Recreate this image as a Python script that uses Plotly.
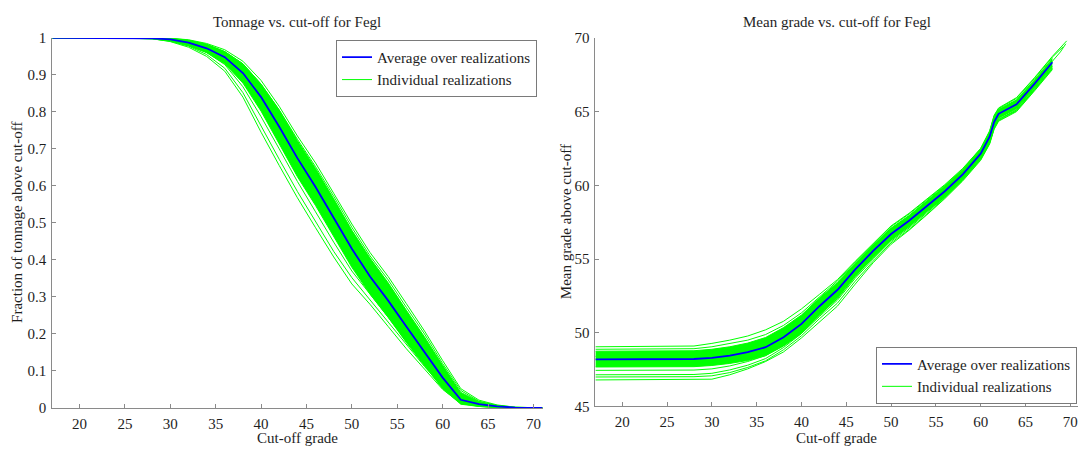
import plotly.graph_objects as go

FONT = "Liberation Serif, Times New Roman, serif"
BLUE = "#0000FF"
GREEN = "#00FF00"
AXC = "#8a8a8a"
TXT = "#1e1e1e"

# ---------------- Left panel: tonnage fraction vs cut-off ----------------
cut_t = [17, 20, 25, 28, 30, 32, 34, 36, 38, 40, 42, 44, 46, 48, 50, 52, 54, 56, 58, 60, 62, 64, 66, 68, 71]
ton_mean = [1, 1, 1, 0.999, 0.996, 0.987, 0.972, 0.948, 0.905, 0.840, 0.760, 0.675, 0.597, 0.515, 0.430, 0.355,
            0.290, 0.220, 0.152, 0.082, 0.022, 0.010, 0.004, 0.001, 0]
ton_core_hi = [1, 1, 1, 1.0, 0.999, 0.994, 0.983, 0.963, 0.930, 0.875, 0.805, 0.722, 0.647, 0.565, 0.480, 0.405,
               0.338, 0.264, 0.192, 0.115, 0.042, 0.017, 0.007, 0.002, 0]
ton_core_lo = [1, 1, 1, 0.997, 0.992, 0.979, 0.960, 0.930, 0.878, 0.802, 0.715, 0.625, 0.547, 0.465, 0.380, 0.308,
               0.245, 0.177, 0.115, 0.052, 0.010, 0.004, 0.001, 0, 0]
ton_low1 = [1, 1, 1, 0.998, 0.990, 0.975, 0.950, 0.910, 0.840, 0.745, 0.655, 0.568, 0.487, 0.408, 0.335, 0.280,
            0.220, 0.160, 0.105, 0.050, 0.012, 0.004, 0.001, 0, 0]
ton_low2 = [1, 1, 1, 0.998, 0.991, 0.978, 0.955, 0.918, 0.852, 0.760, 0.672, 0.585, 0.503, 0.423, 0.352, 0.292,
            0.230, 0.170, 0.112, 0.056, 0.014, 0.005, 0.001, 0, 0]
ton_low3 = [1, 1, 1, 0.999, 0.993, 0.981, 0.961, 0.928, 0.868, 0.787, 0.700, 0.612, 0.530, 0.448, 0.370, 0.308,
            0.245, 0.180, 0.122, 0.062, 0.016, 0.006, 0.002, 0, 0]
ton_high1 = [1, 1, 1, 1.0, 0.999, 0.995, 0.985, 0.968, 0.937, 0.885, 0.815, 0.735, 0.662, 0.580, 0.497, 0.420,
             0.355, 0.282, 0.208, 0.128, 0.052, 0.021, 0.008, 0.002, 0]
ton_high2 = [1, 1, 1, 1.0, 0.998, 0.993, 0.982, 0.963, 0.930, 0.875, 0.805, 0.726, 0.652, 0.572, 0.488, 0.411,
             0.346, 0.272, 0.200, 0.120, 0.047, 0.018, 0.006, 0.001, 0]

# ---------------- Right panel: mean grade vs cut-off ----------------
cut_g = [17, 20, 25, 28, 30, 32, 34, 36, 38, 40, 42, 44, 46, 48, 50, 52, 54, 56, 58, 60, 61, 61.5, 62, 64, 66, 68]
grade_mean = [48.2, 48.2, 48.2, 48.22, 48.3, 48.45, 48.68, 49.02, 49.7, 50.6, 51.8, 52.9, 54.3, 55.55, 56.7, 57.6,
              58.6, 59.6, 60.75, 62.15, 63.3, 64.3, 64.85, 65.5, 66.88, 68.35]
grade_core_hi = [48.75, 48.75, 48.75, 48.78, 48.88, 49.05, 49.3, 49.68, 50.35, 51.2, 52.35, 53.4, 54.72, 55.95,
                 57.1, 57.95, 58.95, 59.95, 61.05, 62.45, 63.6, 64.65, 65.15, 65.8, 67.15, 68.6]
grade_core_lo = [47.68, 47.68, 47.68, 47.7, 47.78, 47.92, 48.12, 48.45, 49.1, 49.95, 51.2, 52.35, 53.85, 55.12,
                 56.3, 57.2, 58.25, 59.25, 60.45, 61.85, 62.95, 63.95, 64.55, 65.2, 66.6, 68.05]
cut_g_ext1 = cut_g + [69.6]
grade_hi1 = [49.05, 49.05, 49.05, 49.1, 49.28, 49.5, 49.78, 50.2, 50.78, 51.62, 52.6, 53.6, 54.85, 56.05, 57.25,
             58.1, 59.05, 60.05, 61.15, 62.5, 63.7, 64.75, 65.25, 65.95, 67.3, 68.75, 69.8]
cut_g_ext2 = cut_g + [69.2]
grade_hi2 = [48.88, 48.88, 48.88, 48.92, 49.05, 49.25, 49.5, 49.88, 50.5, 51.35, 52.45, 53.5, 54.8, 56.0, 57.2,
             58.05, 59.0, 60.0, 61.1, 62.5, 63.65, 64.7, 65.2, 65.9, 67.25, 68.7, 69.4]
cut_g_ext3 = cut_g + [68.9, 69.5]
grade_mid1 = [48.4, 48.4, 48.4, 48.42, 48.5, 48.65, 48.9, 49.25, 49.9, 50.8, 51.95, 53.05, 54.45, 55.7, 56.85,
              57.75, 58.75, 59.75, 60.9, 62.3, 63.45, 64.5, 65.0, 65.65, 67.0, 68.45, 69.05, 69.6]
grade_lo1 = [46.8, 46.8, 46.8, 46.82, 46.85, 47.15, 47.55, 48.05, 48.7, 49.65, 50.75, 51.8, 53.3, 54.75, 56.0,
             56.95, 58.0, 59.1, 60.3, 61.7, 62.8, 63.8, 64.35, 65.0, 66.4, 67.85]
grade_lo2 = [47.0, 47.0, 47.0, 47.02, 47.08, 47.3, 47.65, 48.1, 48.85, 49.8, 50.95, 52.0, 53.5, 54.85, 56.1,
             57.0, 58.05, 59.15, 60.35, 61.75, 62.85, 63.85, 64.4, 65.05, 66.45, 67.9]
grade_lo3 = [47.15, 47.15, 47.15, 47.17, 47.25, 47.48, 47.8, 48.25, 49.0, 49.95, 51.1, 52.2, 53.7, 55.0, 56.2,
             57.1, 58.15, 59.2, 60.4, 61.8, 62.9, 63.9, 64.45, 65.1, 66.5, 67.95]
grade_lo4 = [47.45, 47.45, 47.45, 47.47, 47.55, 47.75, 48.05, 48.45, 49.15, 50.05, 51.2, 52.3, 53.8, 55.1, 56.28,
             57.18, 58.22, 59.22, 60.42, 61.82, 62.92, 63.92, 64.48, 65.13, 66.53, 67.98]

x_ticks = [20, 25, 30, 35, 40, 45, 50, 55, 60, 65, 70]
ton_ticks = [0, 0.1, 0.2, 0.3, 0.4, 0.5, 0.6, 0.7, 0.8, 0.9, 1]
grade_ticks = [45, 50, 55, 60, 65, 70]

W, H = 1078, 455
FS = 15
fig = go.Figure()


def add_panel(xa, ya, leg, x, mean, lo, hi, lines):
    fig.add_trace(go.Scatter(x=x, y=lo, mode="lines", line=dict(color=GREEN, width=1),
                             xaxis=xa, yaxis=ya, showlegend=False, hoverinfo="skip"))
    fig.add_trace(go.Scatter(x=x, y=hi, mode="lines", line=dict(color=GREEN, width=1),
                             fill="tonexty", fillcolor=GREEN,
                             xaxis=xa, yaxis=ya, showlegend=False, hoverinfo="skip"))
    for i, (lx, ly) in enumerate(lines):
        fig.add_trace(go.Scatter(x=lx, y=ly, mode="lines", line=dict(color=GREEN, width=1),
                                 xaxis=xa, yaxis=ya, name="Individual realizations",
                                 showlegend=(i == 0), legend=leg, legendrank=2))
    fig.add_trace(go.Scatter(x=x[:len(mean)], y=mean, mode="lines", line=dict(color=BLUE, width=1.8),
                             xaxis=xa, yaxis=ya, name="Average over realizations",
                             showlegend=True, legend=leg, legendrank=1))


add_panel("x", "y", "legend", cut_t, ton_mean, ton_core_lo, ton_core_hi,
          [(cut_t, ton_low1), (cut_t, ton_low2), (cut_t, ton_low3), (cut_t, ton_high1), (cut_t, ton_high2)])
add_panel("x2", "y2", "legend2", cut_g, grade_mean, grade_core_lo, grade_core_hi,
          [(cut_g_ext1, grade_hi1), (cut_g_ext2, grade_hi2), (cut_g_ext3, grade_mid1), (cut_g, grade_lo1),
           (cut_g, grade_lo2), (cut_g, grade_lo3), (cut_g, grade_lo4)])

axis_common = dict(showgrid=False, zeroline=False, showline=True, linecolor=AXC, linewidth=1,
                   ticks="inside", ticklen=4, tickcolor=AXC, tickwidth=1,
                   tickfont=dict(family=FONT, size=FS, color=TXT), mirror=False,
                   ticklabeloverflow="allow")
xaxis_extra = dict(ticklabelstandoff=2)
yaxis_extra = dict(ticklabelstandoff=2)

lx0, lx1 = 52.3 / W, 542.5 / W
rx0, rx1 = 595.4 / W, 1.0
ly0, ly1 = (H - 414.5) / H, (H - 31) / H
ry0, ry1 = (H - 413) / H, (H - 31) / H

legend_common = dict(bgcolor="white", bordercolor="#7a7a7a", borderwidth=1,
                     font=dict(family=FONT, size=FS, color=TXT), tracegroupgap=0, traceorder="normal")

fig.update_layout(
    width=W, height=H, margin=dict(l=0, r=0, t=0, b=0),
    paper_bgcolor="white", plot_bgcolor="white",
    font=dict(family=FONT, size=FS, color=TXT),
    xaxis=dict(domain=[lx0, lx1], range=[17, 71], tickvals=x_ticks, anchor="y", **axis_common, **xaxis_extra),
    yaxis=dict(domain=[ly0, ly1], range=[0, 1], tickvals=ton_ticks, anchor="x", **axis_common, **yaxis_extra),
    xaxis2=dict(domain=[rx0, rx1], range=[17, 17 + (1078 - 595.4) / 8.96], tickvals=x_ticks, anchor="y2",
                **axis_common, **xaxis_extra),
    yaxis2=dict(domain=[ry0, ry1], range=[45, 70], tickvals=grade_ticks, anchor="x2", **axis_common,
                **yaxis_extra),
    legend=dict(x=537 / W, y=(H - 33) / H, xanchor="right", yanchor="top", **legend_common),
    legend2=dict(x=1077 / W, y=(H - 410) / H, xanchor="right", yanchor="bottom", **legend_common),
    showlegend=True,
)

ann = dict(xref="paper", yref="paper", showarrow=False, font=dict(family=FONT, size=FS, color=TXT))
lcx = (lx0 + lx1) / 2
rcx = (rx0 + rx1) / 2
fig.add_annotation(text="Tonnage vs. cut-off for Fegl", x=lcx, y=(H - 14) / H, xanchor="center",
                   yanchor="middle", **ann)
fig.add_annotation(text="Mean grade vs. cut-off for Fegl", x=rcx, y=(H - 14) / H, xanchor="center",
                   yanchor="middle", **ann)
fig.add_annotation(text="Cut-off grade", x=lcx, y=(H - 445.5) / H, xanchor="center", yanchor="middle", **ann)
fig.add_annotation(text="Cut-off grade", x=rcx, y=(H - 445.5) / H, xanchor="center", yanchor="middle", **ann)
fig.add_annotation(text="Fraction of tonnage above cut-off", x=17 / W, y=(ly0 + ly1) / 2, textangle=-90,
                   xanchor="center", yanchor="middle", **ann)
fig.add_annotation(text="Mean grade above cut-off", x=566 / W, y=(ry0 + ry1) / 2, textangle=-90,
                   xanchor="center", yanchor="middle", **ann)

fig.write_html("out.html")
